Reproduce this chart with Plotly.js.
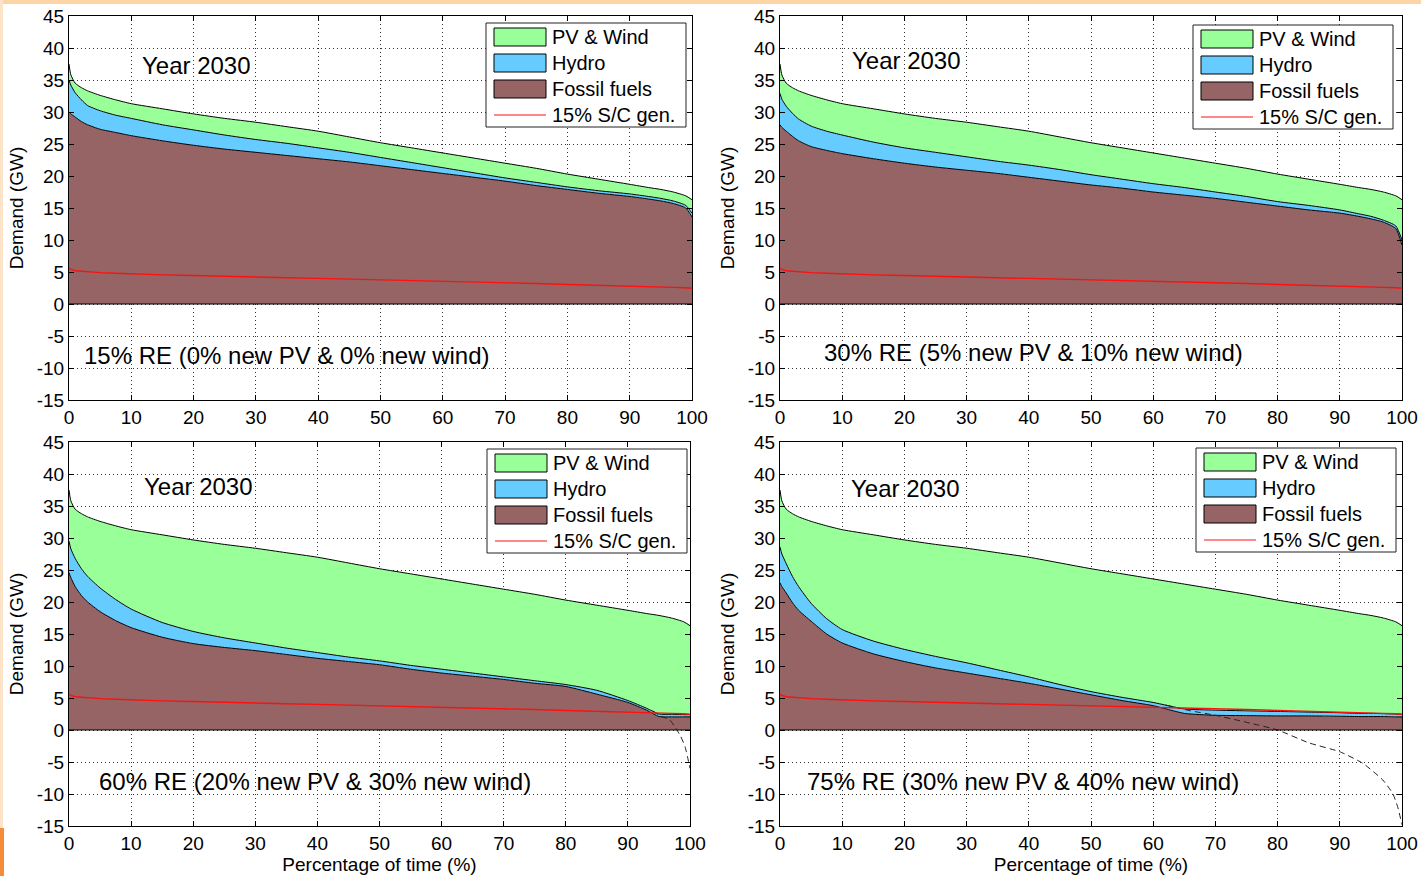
<!DOCTYPE html>
<html>
<head>
<meta charset="utf-8">
<script src="https://cdn.plot.ly/plotly-3.0.1.min.js"></script>
<style>html,body{margin:0;padding:0;background:#fff;}#chart{width:1421px;height:876px;}</style>
</head>
<body>
<div id="chart"></div>
<script>
// ---- Data ----
const timePct = [0,0.3,1,2,3,5,7.5,10,15,20,25,30,35,40,45,50,55,60,65,70,75,80,85,90,93,95,97,99,100];

// total demand (top of PV & Wind area) - same in all panels
const totalDemand = [37.5,35.8,34.5,33.8,33.3,32.6,31.9,31.3,30.5,29.7,29.0,28.4,27.7,27.0,26.1,25.2,24.4,23.6,22.8,22.0,21.2,20.3,19.5,18.7,18.2,17.9,17.5,16.9,16.3];

// 15% S/C generation line
const scGen15 = [5.6,5.4,5.2,5.1,5.0,4.9,4.8,4.7,4.55,4.45,4.3,4.2,4.1,4.0,3.9,3.8,3.65,3.55,3.45,3.3,3.2,3.05,2.95,2.8,2.7,2.65,2.6,2.55,2.45];

// Panel A: 15% RE
const hydroTopA  = [35.0,34.2,33.0,31.9,31.0,30.2,29.5,29.0,28.0,27.2,26.4,25.7,25.1,24.4,23.7,22.9,22.1,21.3,20.5,19.7,19.0,18.3,17.7,17.2,16.8,16.5,16.1,15.4,14.2];
const fossilTopA = [30.0,29.7,29.2,28.5,28.0,27.3,26.8,26.3,25.5,24.8,24.2,23.7,23.2,22.7,22.2,21.6,21.0,20.4,19.8,19.2,18.5,17.9,17.3,16.8,16.4,16.1,15.7,15.0,13.6];

// Panel B: 30% RE
const hydroTopB  = [32.9,32.0,30.9,29.8,28.9,27.8,27.0,26.4,25.3,24.4,23.7,23.0,22.3,21.7,21.0,20.2,19.5,18.8,18.2,17.5,16.8,16.0,15.4,14.7,14.1,13.7,13.1,12.2,10.0];
const fossilTopB = [28.0,27.6,27.0,26.2,25.5,24.6,24.0,23.5,22.7,22.0,21.4,20.9,20.4,19.8,19.2,18.6,18.1,17.5,17.0,16.5,15.9,15.3,14.7,14.2,13.7,13.3,12.8,11.8,9.2];

// Panel C: 60% RE
const hydroTopC  = [29.5,28.3,26.8,25.2,24.0,22.2,20.4,18.9,16.8,15.4,14.4,13.6,12.8,12.1,11.4,10.8,10.1,9.5,8.9,8.3,7.7,7.1,6.2,4.6,3.4,2.5,2.45,2.4,2.4];
const fossilTopC = [24.6,23.8,22.4,21.0,20.0,18.5,17.1,16.0,14.5,13.5,12.9,12.4,11.8,11.2,10.7,10.2,9.5,8.9,8.4,7.9,7.3,6.8,5.6,4.3,3.1,2.1,2.05,2.05,2.05];
const netLoadC_x = [94,95,96.7,97.7,98.5,99.2,99.6,100];
const netLoadC_y = [3.0,2.3,1.6,0.3,-1.0,-2.6,-4.2,-6.0];

// Panel D: 75% RE
const hydroTopD  = [28.6,27.5,26.0,24.0,22.4,19.8,17.4,15.7,13.9,12.6,11.5,10.5,9.4,8.3,7.1,6.0,5.1,4.3,3.3,3.1,3.0,2.9,2.8,2.7,2.6,2.6,2.55,2.5,2.45];
const fossilTopD = [23.0,22.4,21.4,19.9,18.7,17.0,15.0,13.6,11.9,10.7,9.7,8.9,8.1,7.3,6.4,5.5,4.6,3.8,2.6,2.3,2.25,2.2,2.2,2.15,2.1,2.1,2.1,2.05,2.05];
const netLoadD_x = [62,66,70,75,80,85,90,93.7,96.9,98.5,99.3,100];
const netLoadD_y = [3.9,3.0,2.3,1.2,0,-2.0,-3.4,-5.2,-7.8,-9.9,-12,-14.8];

const panelTitles = ["Year 2030","Year 2030","Year 2030","Year 2030"];
const scenarioLabels = [
  "15% RE (0% new PV & 0% new wind)",
  "30% RE (5% new PV & 10% new wind)",
  "60% RE (20% new PV & 30% new wind)",
  "75% RE (30% new PV & 40% new wind)"
];
const legendLabels = ["PV & Wind","Hydro","Fossil fuels","15% S/C gen."];
const yTickVals = [-15,-10,-5,0,5,10,15,20,25,30,35,40,45];
const yTickText = ["-15","-10","-5","0","5","10","15","20","25","30","35","40","45"];
const xTickVals = [0,10,20,30,40,50,60,70,80,90,100];
const xTickText = ["0","10","20","30","40","50","60","70","80","90","100"];
const yTitle = "Demand (GW)";
const xTitle = "Percentage of time (%)";

// ---- Styling ----
const W = 1421, H = 876;
const FONT = "Arial, 'Liberation Sans', sans-serif";
const C_GREEN = "#99FF99", C_BLUE = "#66CCFF", C_BROWN = "#966464", C_RED = "#FF1010";

const panels = [
  {hyd: hydroTopA, fos: fossilTopA, net: null},
  {hyd: hydroTopB, fos: fossilTopB, net: null},
  {hyd: hydroTopC, fos: fossilTopC, net: [netLoadC_x, netLoadC_y]},
  {hyd: hydroTopD, fos: fossilTopD, net: [netLoadD_x, netLoadD_y]}
];

// plot areas in pixels [left, right, top, bottom]
const boxes = [
  [69, 692, 16, 400],
  [780, 1402, 16, 400],
  [69, 690, 442, 826],
  [780, 1402, 442, 826]
];
const legendPos = [[486,23],[1193,25],[487,449],[1196,448]];
const yearPos = [[11.4,37.3],[11.25,38.1],[11.75,38.0],[11.1,37.8]];
const scenPos = [[2.1,-8.0],[6.75,-7.65],[4.5,-8.1],[4.0,-8.1]];

const traces = [];
const layout = {
  width: W, height: H,
  margin: {l:0, r:0, t:0, b:0},
  paper_bgcolor: "#ffffff",
  plot_bgcolor: "#ffffff",
  showlegend: false,
  font: {family: FONT, color: "#000"},
  hovermode: false,
  shapes: [],
  annotations: []
};

const px2x = p => p / W;
const px2y = p => 1 - p / H;

panels.forEach((p, i) => {
  const n = i + 1;
  const xa = "x" + (n === 1 ? "" : n);
  const ya = "y" + (n === 1 ? "" : n);
  const common = {x: timePct, xaxis: xa, yaxis: ya, mode: "lines", hoverinfo: "skip"};
  const edge = {color: "#000", width: 1, shape: "spline", smoothing: 0.6};
  traces.push(Object.assign({}, common, {y: p.fos, fill: "tozeroy", fillcolor: C_BROWN, line: edge}));
  traces.push(Object.assign({}, common, {y: p.hyd, fill: "tonexty", fillcolor: C_BLUE, line: edge}));
  traces.push(Object.assign({}, common, {y: totalDemand, fill: "tonexty", fillcolor: C_GREEN, line: edge}));
  if (p.net) {
    traces.push({x: p.net[0], y: p.net[1], xaxis: xa, yaxis: ya, mode: "lines", hoverinfo: "skip",
      line: {color: "#222", width: 1, dash: "6px,4px", shape: "spline", smoothing: 0.5}});
  }
  traces.push(Object.assign({}, common, {y: scGen15, line: {color: C_RED, width: 1.4}}));

  const b = boxes[i];
  const axKey = "xaxis" + (n === 1 ? "" : n);
  const ayKey = "yaxis" + (n === 1 ? "" : n);
  const axisCommon = {
    showline: true, linecolor: "#000", linewidth: 1, mirror: "ticks",
    ticks: "inside", ticklen: 5, tickcolor: "#000", tickwidth: 1,
    showgrid: true, gridcolor: "#333", gridwidth: 1, griddash: "1px,3px",
    tickfont: {family: FONT, size: 19, color: "#000"},
    fixedrange: true, tickmode: "array"
  };
  layout[axKey] = Object.assign({}, axisCommon, {
    domain: [px2x(b[0]), px2x(b[1])], anchor: ya,
    range: [0, 100], tickvals: xTickVals, ticktext: xTickText, zeroline: false
  });
  if (n >= 3) {
    layout[axKey].title = {text: xTitle, font: {family: FONT, size: 19, color: "#000"}, standoff: 3};
  }
  layout[ayKey] = Object.assign({}, axisCommon, {
    domain: [px2y(b[3]), px2y(b[2])], anchor: xa,
    range: [-15, 45], tickvals: yTickVals, ticktext: yTickText, zeroline: false,
    title: {text: yTitle, font: {family: FONT, size: 19, color: "#000"}, standoff: 8}
  });

  // baseline at zero (area baseline)
  layout.shapes.push({type: "line", xref: xa + " domain", yref: ya, x0: 0, x1: 1, y0: 0, y1: 0,
    line: {color: "#000", width: 1}, layer: "above"});

  // text labels
  layout.annotations.push({xref: xa, yref: ya, x: yearPos[i][0], y: yearPos[i][1], text: panelTitles[i],
    showarrow: false, xanchor: "left", yanchor: "middle", font: {family: FONT, size: 24, color: "#000"}});
  layout.annotations.push({xref: xa, yref: ya, x: scenPos[i][0], y: scenPos[i][1], text: scenarioLabels[i],
    showarrow: false, xanchor: "left", yanchor: "middle", font: {family: FONT, size: 24, color: "#000"}});

  // legend box
  const [lx, ly] = legendPos[i];
  layout.shapes.push({type: "rect", xref: "paper", yref: "paper",
    x0: px2x(lx), x1: px2x(lx + 200), y0: px2y(ly + 104), y1: px2y(ly),
    fillcolor: "#fff", line: {color: "#222", width: 1}, layer: "above"});
  const sw = [C_GREEN, C_BLUE, C_BROWN];
  for (let k = 0; k < 4; k++) {
    const cy = ly + 14 + 26 * k;
    if (k < 3) {
      layout.shapes.push({type: "rect", xref: "paper", yref: "paper",
        x0: px2x(lx + 8), x1: px2x(lx + 60), y0: px2y(cy + 9), y1: px2y(cy - 9),
        fillcolor: sw[k], line: {color: "#000", width: 1}, layer: "above"});
    } else {
      layout.shapes.push({type: "line", xref: "paper", yref: "paper",
        x0: px2x(lx + 8), x1: px2x(lx + 60), y0: px2y(cy), y1: px2y(cy),
        line: {color: C_RED, width: 1}, layer: "above"});
    }
    layout.annotations.push({xref: "paper", yref: "paper", x: px2x(lx + 64), y: px2y(cy),
      text: legendLabels[k], showarrow: false, xanchor: "left", yanchor: "middle",
      font: {family: FONT, size: 20, color: "#000"}});
  }
});

// slide background edges
layout.shapes.push({type: "rect", xref: "paper", yref: "paper", x0: 0, x1: 1, y0: px2y(4), y1: 1,
  fillcolor: "#fcd4a6", line: {width: 0}, layer: "below"});
layout.shapes.push({type: "rect", xref: "paper", yref: "paper", x0: 0, x1: px2x(3), y0: 0, y1: 1,
  fillcolor: "#fde4c8", line: {width: 0}, layer: "below"});
layout.shapes.push({type: "rect", xref: "paper", yref: "paper", x0: 0, x1: px2x(4), y0: 0, y1: px2y(828),
  fillcolor: "#f68b3a", line: {width: 0}, layer: "below"});

Plotly.newPlot("chart", traces, layout, {staticPlot: true, displayModeBar: false});
</script>
</body>
</html>
